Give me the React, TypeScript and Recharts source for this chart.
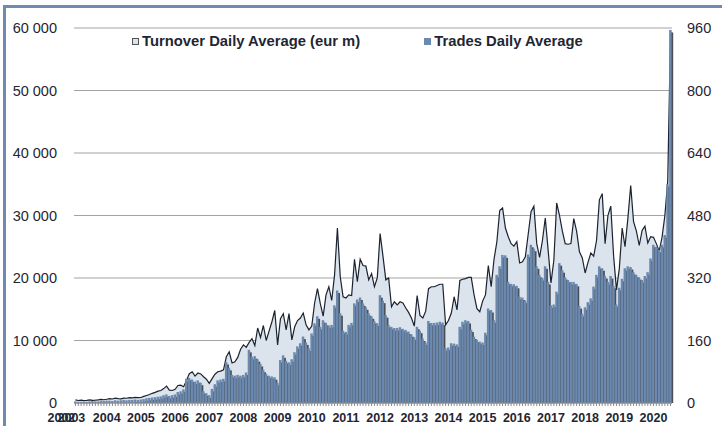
import { ComposedChart, Area, Bar, XAxis, YAxis, CartesianGrid } from 'recharts'

const FONT = '"Liberation Sans", Arial, sans-serif'
const TEXT = '#1f2633'
const AREA_FILL = '#dbe3ec'
const AREA_LINE = '#1b2230'
const BAR_FILL = '#6b89ae'
const SHADOW = '#4a4e56'
const FRAME = '#6f8cb0'

// monthly series, first month Feb 2003
const START_YEAR = 2003
const START_MONTH = 2

const TURNOVER = [
  500, 400, 450, 400, 420, 500, 430, 450, 500, 580,
  520, 600, 700, 640, 780, 700, 650, 780, 760, 850,
  820, 900, 860, 880, 1050, 1200, 1350, 1550, 1700, 1900,
  2000, 2300, 2700, 2050, 2000, 2200, 2800, 2850, 2600, 3600,
  4700, 5000, 4300, 4800, 4650, 4200, 3800, 3150, 3900, 4600,
  5000, 5100, 5300, 7400, 8200, 6400, 6600, 7300, 8600, 9300,
  8900, 9700, 10300, 9200, 12000, 10500, 12400, 10000, 11500, 13000,
  14800, 9300, 13500, 14300, 11700, 14300, 10100, 12200, 13200, 13600,
  14400, 12500, 11700, 12300, 16000, 18300, 15900, 13900, 17300, 18600,
  16400, 20500, 28000, 20200, 17000, 16800, 17300, 17200, 23000, 19400,
  23000, 22000, 21900, 19700, 20700, 18600, 20000, 27100, 23500, 19700,
  20000, 15400, 16200, 15700, 16200, 16000, 15200, 14500, 13600, 12300,
  17200, 14000, 13600, 14700, 18300, 18600, 18600, 18800, 19000, 19000,
  12500, 13200, 14400, 17000, 14900, 19600, 19800, 19900, 20100, 20100,
  17300, 15100, 14600, 16300, 17300, 22000, 18600, 23000, 25800, 30800,
  31200, 28000, 26600, 25500, 25100, 25800, 22400, 22600, 23400, 27000,
  30600, 31500, 25500, 23300, 26000, 29600, 24500, 19200, 22800, 32000,
  30000, 27500, 25500, 25400, 25500, 29500, 27500, 24200, 23200, 20800,
  22500, 24000, 23500, 26000, 32500, 33500, 25500, 30000, 31500, 23500,
  18100, 21500, 28000, 25000, 29500, 34800, 29000, 27500, 25200, 27600,
  28300, 25600, 26600, 26500, 25500, 24300, 26500, 30000, 35500, 59500,
]

const TRADES = [
  4, 3, 3, 4, 3, 4, 5, 4, 4, 5,
  5, 6, 6, 5, 7, 6, 7, 8, 7, 8,
  8, 9, 8, 9, 10, 12, 13, 14, 15, 16,
  17, 20, 22, 18, 20, 22, 28, 30, 35, 62,
  64, 60, 55, 58, 52, 30, 25, 20, 36, 48,
  58, 60, 62, 105, 90, 72, 70, 72, 70, 72,
  78, 136, 118, 120, 112, 100, 85, 75, 70, 68,
  66, 52, 110, 122, 108, 104, 112, 130, 145, 153,
  170, 155, 140, 178, 204, 222, 195, 212, 205, 198,
  200, 250, 288, 230, 185, 182, 200, 205, 255, 265,
  270, 255, 245, 230, 222, 210, 204, 276, 262, 225,
  200, 195, 192, 192, 194, 190, 187, 183, 176, 168,
  195, 185, 165, 155, 210, 205, 205, 206, 208, 206,
  140, 142, 153, 152, 150, 195, 208, 212, 210, 188,
  170, 162, 157, 155, 180, 242, 238, 212, 328, 350,
  379, 378, 310, 305, 304, 300, 272, 270, 262, 380,
  405, 395, 350, 328, 320, 350, 310, 250, 252, 285,
  358, 340, 322, 315, 310, 310, 305, 248, 228, 245,
  258, 268, 298, 328, 350, 345, 325, 310, 325, 300,
  252, 295, 318, 345, 350, 348, 335, 328, 322, 315,
  325, 335, 370, 405, 400, 392, 405, 430, 560, 955,
]

const LEFT_TICKS = [0, 10000, 20000, 30000, 40000, 50000, 60000]
const RIGHT_TICKS = [0, 160, 320, 480, 640, 800, 960]
// the two labels crowded at the start of the axis
const FIRST_LABELS = ['2002', '2003']

const months = TURNOVER.map((_, i) => {
  const m = START_MONTH - 1 + i
  const y = START_YEAR + Math.floor(m / 12)
  return `${y}-${String((m % 12) + 1).padStart(2, '0')}`
})

const data = months.map((month, i) => ({
  month,
  turnover: TURNOVER[i],
  trades: TRADES[i],
}))

const spaced = (v: number) => String(v).replace(/\B(?=(\d{3})+(?!\d))/g, ' ')

const labelStyle = { fontFamily: FONT, fontSize: 12.5, fontWeight: 700, fill: TEXT }

function YearTick({ x, y, payload }: any) {
  const value = String(payload.value)
  if (value === months[0]) {
    return (
      <g>
        {FIRST_LABELS.map((l, k) => (
          <text key={l} x={x - 14 + k * 10} y={y} dy="0.71em" textAnchor="middle" {...labelStyle}>
            {l}
          </text>
        ))}
      </g>
    )
  }
  const [yr, mm] = value.split('-')
  if (mm !== '01') return <g />
  return (
    <text x={x} y={y} dy="0.71em" textAnchor="middle" {...labelStyle}>
      {yr}
    </text>
  )
}

function ShadowBar({ x, y, width, height }: any) {
  if (!height || height <= 0) return <g />
  return (
    <g>
      <rect x={x + 1.6} y={y + 2.5} width={width} height={Math.max(height - 2.5, 0)} fill={SHADOW} />
      <rect x={x} y={y} width={width} height={height} fill={BAR_FILL} />
    </g>
  )
}

function Legend() {
  const item = { display: 'flex', alignItems: 'center', whiteSpace: 'nowrap' as const }
  const box = { width: 7, height: 7, marginRight: 3, boxSizing: 'border-box' as const }
  return (
    <div
      style={{
        position: 'absolute',
        top: 33,
        left: 132,
        display: 'flex',
        fontFamily: FONT,
        fontSize: 14.8,
        fontWeight: 700,
        color: TEXT,
        lineHeight: '17px',
      }}
    >
      <div style={item}>
        <span style={{ ...box, background: AREA_FILL, border: '1px solid #555' }} />
        Turnover Daily Average (eur m)
      </div>
      <div style={{ ...item, marginLeft: 64 }}>
        <span style={{ ...box, background: BAR_FILL }} />
        Trades Daily Average
      </div>
    </div>
  )
}

export default function App() {
  return (
    <div style={{ position: 'fixed', left: 0, top: 0, width: 722, height: 426, overflow: 'hidden', background: '#fff' }}>
      <div
        style={{
          position: 'absolute',
          left: 3,
          top: 5,
          width: 800,
          height: 500,
          border: `3px solid ${FRAME}`,
        }}
      />
      <div style={{ position: 'absolute', left: 0, top: 0 }}>
        <ComposedChart
          width={722}
          height={426}
          data={data}
          margin={{ top: 28, right: 0, bottom: 0, left: 0 }}
          barCategoryGap={0}
        >
          <CartesianGrid yAxisId="left" vertical={false} stroke="#a3a3a3" strokeWidth={1.2} />
          <XAxis
            dataKey="month"
            interval={0}
            height={23}
            tick={<YearTick />}
            tickSize={3}
            tickMargin={7}
            axisLine={{ stroke: '#8a8a8a' }}
            tickLine={{ stroke: '#8a8a8a' }}
          />
          <YAxis
            yAxisId="left"
            width={74}
            domain={[0, 60000]}
            ticks={LEFT_TICKS}
            tickFormatter={spaced}
            axisLine={false}
            tickLine={false}
            tickSize={0}
            tickMargin={17}
            tick={{ fontFamily: FONT, fontSize: 14.5, fill: TEXT }}
          />
          <YAxis
            yAxisId="right"
            orientation="right"
            width={50}
            domain={[0, 960]}
            ticks={RIGHT_TICKS}
            axisLine={false}
            tickLine={false}
            tickSize={0}
            tickMargin={15}
            tick={{ fontFamily: FONT, fontSize: 14.5, fill: TEXT }}
          />
          <Area
            yAxisId="left"
            type="linear"
            dataKey="turnover"
            fill={AREA_FILL}
            fillOpacity={1}
            stroke={AREA_LINE}
            strokeWidth={1.2}
            isAnimationActive={false}
          />
          <Bar
            yAxisId="right"
            dataKey="trades"
            barSize={2.45}
            shape={<ShadowBar />}
            isAnimationActive={false}
          />
        </ComposedChart>
      </div>
      <Legend />
    </div>
  )
}
